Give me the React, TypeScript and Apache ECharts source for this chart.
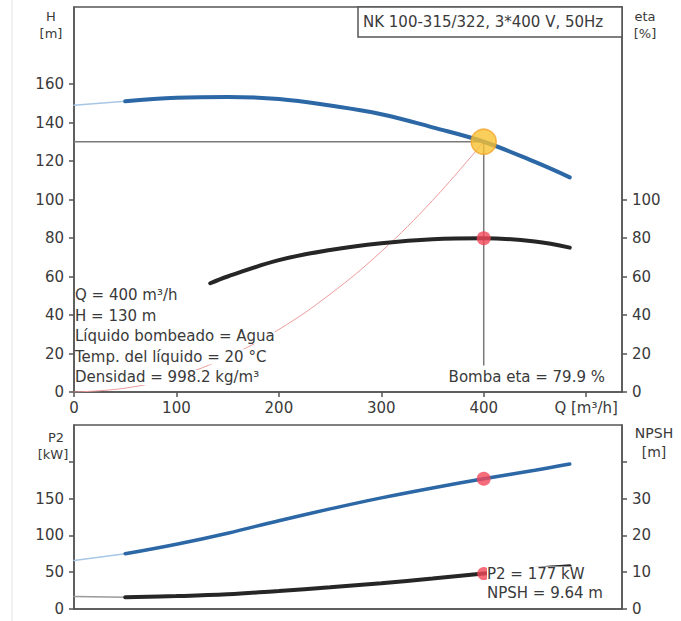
import React, { useEffect, useRef } from 'react';
import * as echarts from 'echarts';

// ---- Data ----
const headQ = [0, 50, 100, 150, 200, 250, 300, 350, 400, 450, 484];
const headH = [149, 151, 152.8, 153.3, 152.2, 148.8, 144.3, 137.5, 130, 119.5, 111.5];

const etaQ = [133, 150, 200, 250, 300, 350, 400, 450, 484];
const etaV = [56.5, 60, 68.5, 73.8, 77.3, 79.4, 79.9, 78.2, 75];

const systemQ = [0, 50, 100, 150, 200, 250, 300, 350, 400];
const systemH = [0, 2, 8, 18.3, 32.5, 50.8, 73, 99.5, 130];

const p2Q = [0, 50, 100, 150, 200, 250, 300, 350, 400, 450, 484];
const p2V = [66, 75, 88, 103, 120, 136, 151, 164.5, 177, 188.5, 197];

const npshQ = [0, 50, 100, 150, 200, 250, 300, 350, 400, 450, 484];
const npshV = [3.4, 3.2, 3.5, 4.0, 4.9, 5.9, 7.0, 8.3, 9.64, 10.9, 11.6];

const dutyQ = 400;
const dutyH = 130;
const dutyEta = 79.9;
const dutyP2 = 177;
const dutyNPSH = 9.64;
const dropLineEnd = 14;

const xTicks = [0, 100, 200, 300, 400, 500];
const hLabels = [0, 20, 40, 60, 80, 100, 120, 140, 160];
const etaLabels = [0, 20, 40, 60, 80, 100];
const p2Labels = [0, 50, 100, 150];
const p2Ticks = [0, 50, 100, 150, 200];
const npshLabels = [0, 10, 20, 30];
const npshTicks = [0, 10, 20, 30, 40];

const title = 'NK 100-315/322, 3*400 V, 50Hz';
const infoLines = [
  'Q = 400 m³/h',
  'H = 130 m',
  'Líquido bombeado = Agua',
  'Temp. del líquido = 20 °C',
  'Densidad = 998.2 kg/m³',
];
const etaNote = 'Bomba eta = 79.9 %';
const p2Note = 'P2 = 177 kW';
const npshNote = 'NPSH = 9.64 m';

// ---- helpers ----
const pairs = (xs: number[], ys: number[]) => xs.map((x, i) => [x, ys[i]]);
const FONT = 'DejaVu Sans';
const TXT = '#3a3a3a';
const AX = '#555';

function valueAxis(extra: any) {
  return {
    type: 'value',
    splitLine: { show: false },
    axisLine: { show: true, lineStyle: { color: AX, width: 1.5 } },
    axisTick: { show: true, length: 5, lineStyle: { color: AX, width: 1.5 } },
    axisLabel: { color: TXT, fontFamily: FONT, fontSize: 15, margin: 10 },
    ...extra,
  };
}

function textEl(text: string, x: number, y: number, opts: any = {}, size = 15) {
  return {
    type: 'text',
    x,
    y,
    z: 50,
    style: {
      text,
      fill: TXT,
      font: `${size}px "${FONT}"`,
      align: 'left',
      verticalAlign: 'middle',
      ...opts,
    },
  };
}

const line = (data: number[][], color: string, width: number, xi: number, yi: number, z = 3) => ({
  type: 'line',
  xAxisIndex: xi,
  yAxisIndex: yi,
  data,
  symbol: 'none',
  smooth: 0.4,
  z,
  lineStyle: { color, width, cap: 'round' },
});

export default function App() {
  const ref = useRef<HTMLDivElement>(null);

  useEffect(() => {
    const chart = echarts.init(ref.current!, null, { renderer: 'svg' });

    const option: any = {
      animation: false,
      backgroundColor: '#fff',
      grid: [
        { left: 74, right: 59, top: 7, height: 385, show: true, borderColor: AX, borderWidth: 1.5, containLabel: false },
        { left: 74, right: 59, top: 425, height: 184, show: true, borderColor: AX, borderWidth: 1.5, containLabel: false },
      ],
      xAxis: [
        valueAxis({
          gridIndex: 0,
          min: 0,
          max: 535,
          interval: 100,
          axisTick: { show: true, length: 5, customValues: xTicks, lineStyle: { color: AX, width: 1.5 } },
          axisLabel: {
            color: TXT,
            fontFamily: FONT,
            fontSize: 15,
            margin: 8,
            customValues: xTicks,
            formatter: (v: number) => (v === 500 ? 'Q [m³/h]' : String(v)),
          },
        }),
        valueAxis({
          gridIndex: 1,
          min: 0,
          max: 535,
          interval: 100,
          axisTick: { show: false },
          axisLabel: { show: false },
        }),
      ],
      yAxis: [
        valueAxis({
          gridIndex: 0,
          position: 'left',
          min: 0,
          max: 200,
          interval: 20,
          axisTick: { show: true, length: 5, customValues: hLabels, lineStyle: { color: AX, width: 1.5 } },
          axisLabel: { color: TXT, fontFamily: FONT, fontSize: 15, margin: 10, customValues: hLabels },
        }),
        valueAxis({
          gridIndex: 0,
          position: 'right',
          min: 0,
          max: 200,
          interval: 20,
          axisTick: { show: true, length: 5, customValues: etaLabels, lineStyle: { color: AX, width: 1.5 } },
          axisLabel: { color: TXT, fontFamily: FONT, fontSize: 15, margin: 10, customValues: etaLabels },
        }),
        valueAxis({
          gridIndex: 1,
          position: 'left',
          min: 0,
          max: 250,
          interval: 50,
          axisTick: { show: true, length: 5, customValues: p2Ticks, lineStyle: { color: AX, width: 1.5 } },
          axisLabel: { color: TXT, fontFamily: FONT, fontSize: 15, margin: 10, customValues: p2Labels },
        }),
        valueAxis({
          gridIndex: 1,
          position: 'right',
          min: 0,
          max: 50,
          interval: 10,
          axisTick: { show: true, length: 5, customValues: npshTicks, lineStyle: { color: AX, width: 1.5 } },
          axisLabel: { color: TXT, fontFamily: FONT, fontSize: 15, margin: 10, customValues: npshLabels },
        }),
      ],
      series: [
        // system curve
        line(pairs(systemQ, systemH), '#ec9a9a', 1, 0, 0, 2),
        // duty cross lines
        line([[0, dutyH], [dutyQ, dutyH]], '#7a7a7a', 1.5, 0, 0, 2),
        line([[dutyQ, dutyH], [dutyQ, dropLineEnd]], '#7a7a7a', 1.5, 0, 0, 2),
        // head curve
        line(pairs(headQ.slice(0, 2), headH.slice(0, 2)), '#a8c6e6', 1.5, 0, 0),
        line(pairs(headQ.slice(1), headH.slice(1)), '#2c67a6', 4, 0, 0),
        // efficiency curve
        line(pairs(etaQ, etaV), '#262626', 4, 0, 1),
        // P2 curve
        line(pairs(p2Q.slice(0, 2), p2V.slice(0, 2)), '#a8c6e6', 1.5, 1, 2),
        line(pairs(p2Q.slice(1), p2V.slice(1)), '#2c67a6', 3.5, 1, 2),
        // NPSH curve
        line(pairs(npshQ.slice(0, 2), npshV.slice(0, 2)), '#9a9a9a', 1.5, 1, 3),
        line(pairs(npshQ.slice(1), npshV.slice(1)), '#262626', 4, 1, 3),
        // duty points
        {
          type: 'scatter', xAxisIndex: 0, yAxisIndex: 0, z: 10,
          data: [[dutyQ, dutyH]], symbolSize: 25,
          itemStyle: { color: '#f8c232', borderColor: '#f0a52c', borderWidth: 1.5 },
        },
        {
          type: 'scatter', xAxisIndex: 0, yAxisIndex: 1, z: 10,
          data: [[dutyQ, dutyEta]], symbolSize: 14,
          itemStyle: { color: '#f2475a' },
        },
        {
          type: 'scatter', xAxisIndex: 1, yAxisIndex: 2, z: 10,
          data: [[dutyQ, dutyP2]], symbolSize: 14,
          itemStyle: { color: '#f2475a' },
        },
        {
          type: 'scatter', xAxisIndex: 1, yAxisIndex: 3, z: 10,
          data: [[dutyQ, dutyNPSH]], symbolSize: 13,
          itemStyle: { color: '#f2475a' },
        },
      ],
      graphic: [
        { type: 'line', z: 0, shape: { x1: 12, y1: 0, x2: 12, y2: 621 }, style: { stroke: '#e2e2e2', lineWidth: 1 } },
        // title box
        { type: 'rect', z: 40, shape: { x: 358, y: 7, width: 264, height: 30 }, style: { fill: '#fff', stroke: AX, lineWidth: 1.5 } },
        textEl(title, 363, 22),
        // axis names
        textEl('H', 51, 16, { align: 'center' }, 13),
        textEl('[m]', 51, 33, { align: 'center' }, 13),
        textEl('eta', 645, 16, { align: 'center' }, 13),
        textEl('[%]', 645, 33, { align: 'center' }, 13),
        textEl('P2', 56, 437, { align: 'center' }, 13),
        textEl('[kW]', 53, 454, { align: 'center' }, 13),
        textEl('NPSH', 654, 433, { align: 'center' }, 14),
        textEl('[m]', 654, 452, { align: 'center' }, 14),
        // info block
        ...infoLines.map((t, i) => textEl(t, 75, 295 + i * 20.6, { backgroundColor: '#fff' })),
        textEl(etaNote, 605, 377, { align: 'right', backgroundColor: '#fff' }),
        textEl(p2Note, 487, 574, { backgroundColor: '#fff' }),
        textEl(npshNote, 487, 593, { backgroundColor: '#fff' }),
      ],
    };

    chart.setOption(option);
    return () => chart.dispose();
  }, []);

  return <div ref={ref} style={{ position: 'absolute', left: 0, top: 0, width: 681, height: 621 }} />;
}
